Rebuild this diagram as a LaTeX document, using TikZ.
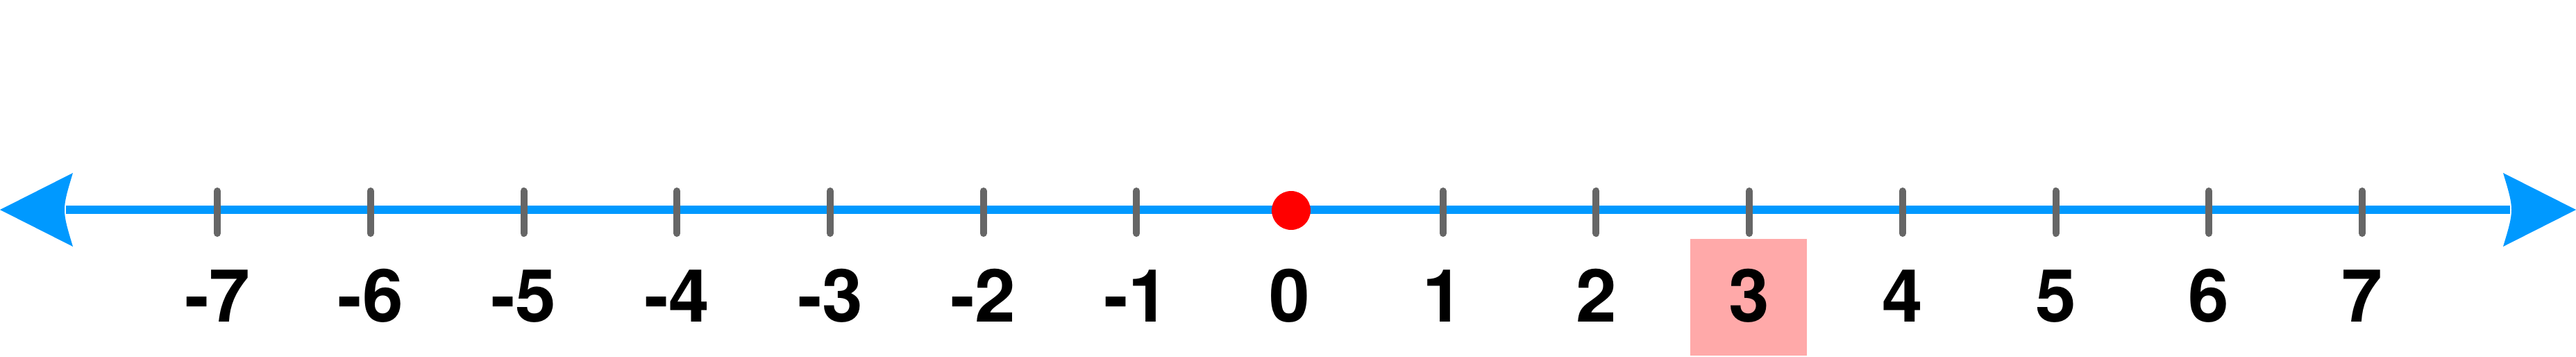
\documentclass[tikz,border=0pt]{standalone}
\usepackage{fontspec}
\setmainfont{TeX Gyre Heros}
\usetikzlibrary{positioning}
\definecolor{lineblue}{HTML}{0099FF}
\definecolor{tickgray}{HTML}{666666}
\definecolor{hilite}{HTML}{FFA9A9}
\tikzset{
  axis line/.style={line width=1.2mm, draw=lineblue},
  arrow head/.style={fill=lineblue},
  tick mark/.style={line width=1mm, draw=tickgray, line cap=round},
  tick label/.style={
    anchor=base, inner sep=0pt,
    font=\fontsize{30pt}{30pt}\selectfont\bfseries},
  point dot/.style={circle, fill=red, inner sep=0pt, minimum size=5.6mm},
  answer box/.style={fill=hilite, inner sep=0pt,
    minimum width=1.68cm, minimum height=1.68cm}
}

\begin{document}
\begin{tikzpicture}[x=1cm, y=1cm]
\useasboundingbox (0,0) rectangle (37.11,5.13);

% ends of the number line
\coordinate (tip-l) at (0,2.11);
\coordinate (tip-r) at (37.11,2.11);
\coordinate (end-l) at (0.95,2.11);
\coordinate (end-r) at (36.16,2.11);

% highlighted answer, behind everything
\node[answer box, anchor=south] (ans-box) at (25.19,0) {};

\draw[axis line] (end-l) -- (end-r);

% arrow heads
\fill[arrow head] (tip-l) -- ++(1.05,0.53)
  .. controls (0.89,2.11) .. ++(0,-1.06) -- cycle;
\fill[arrow head] (tip-r) -- ++(-1.05,0.53)
  .. controls (36.22,2.11) .. ++(0,-1.06) -- cycle;

% ticks and labels
\foreach \n in {-7,...,7}{
  \coordinate (t\n) at ({18.58+2.207*\n},2.11);
  \ifnum\n=0\else
    \draw[tick mark] ([yshift=2.7mm]t\n) -- ([yshift=-3.4mm]t\n);
  \fi
  \node[tick label] (lab\n) at ({18.58+2.207*\n},0.50) {\n};
}

\node[point dot] (zero-pt) at ([xshift=0.2mm,yshift=-0.1mm]t0) {};
\end{tikzpicture}
\end{document}
